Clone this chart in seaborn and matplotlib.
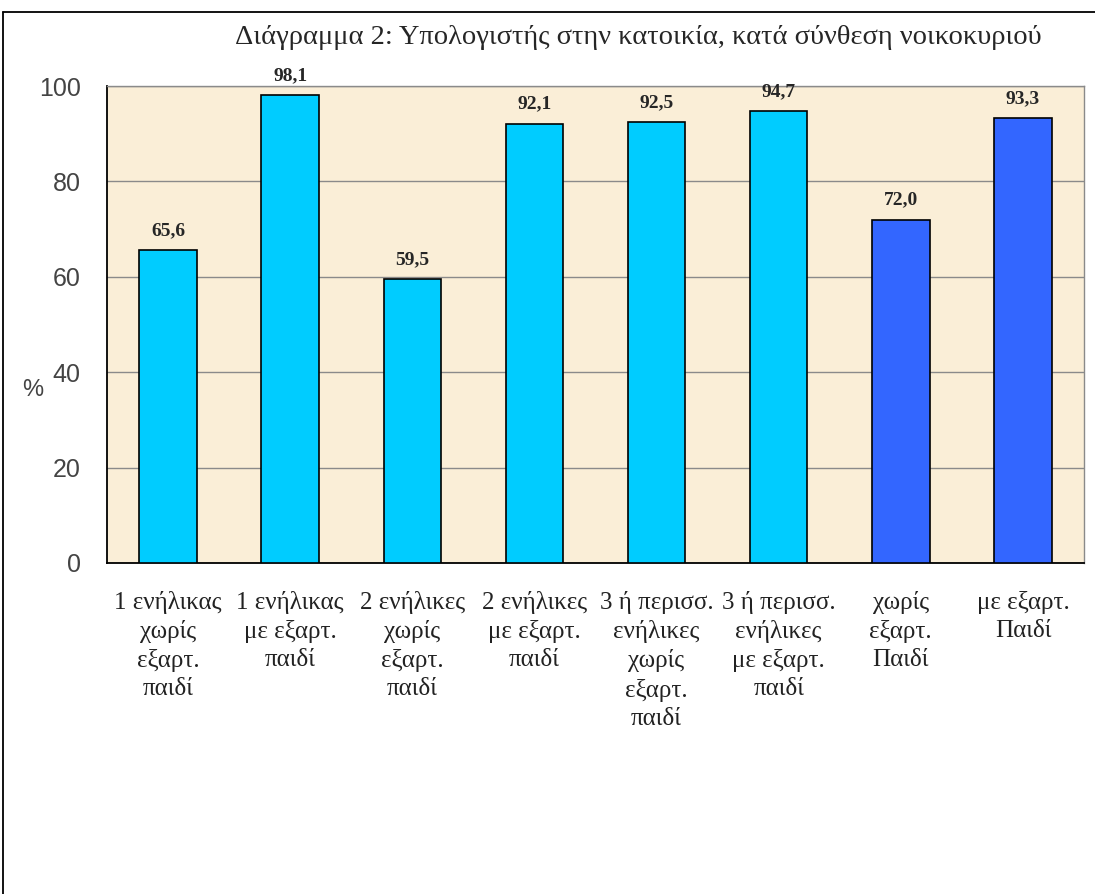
import numpy as np
import pandas as pd
import seaborn as sns
import matplotlib.pyplot as plt
from matplotlib.lines import Line2D

categories = ['1 ενήλικας\nχωρίς\nεξαρτ.\nπαιδί',
              '1 ενήλικας\nμε εξαρτ.\nπαιδί',
              '2 ενήλικες\nχωρίς\nεξαρτ.\nπαιδί',
              '2 ενήλικες\nμε εξαρτ.\nπαιδί',
              '3 ή περισσ.\nενήλικες\nχωρίς\nεξαρτ.\nπαιδί',
              '3 ή περισσ.\nενήλικες\nμε εξαρτ.\nπαιδί',
              'χωρίς\nεξαρτ.\nΠαιδί',
              'με εξαρτ.\nΠαιδί']
values = [65.6, 98.1, 59.5, 92.1, 92.5, 94.7, 72.0, 93.3]
colors = ['#00CCFF'] * 6 + ['#3366FF'] * 2
title = 'Διάγραμμα 2: Υπολογιστής στην κατοικία, κατά σύνθεση νοικοκυριού'

df = pd.DataFrame({'cat': categories, 'val': values})

sns.set_style('white')
plt.rcParams['font.family'] = ['Liberation Serif', 'DejaVu Serif']

fig = plt.figure(figsize=(10.95, 8.94), dpi=100)
ax = fig.add_axes([107/1095, 1 - 563/894, (1084 - 107)/1095, (563 - 86)/894])

sns.barplot(data=df, x='cat', y='val', hue='cat', palette=colors, legend=False,
            width=0.47, edgecolor='black', linewidth=1.2, saturation=1, ax=ax, zorder=3)

ax.set_facecolor('#FAEED7')
ax.set_ylim(0, 100)
ax.set_xlim(-0.5, len(categories) - 0.5)
ax.set_yticks([0, 20, 40, 60, 80, 100])
ax.yaxis.grid(True, color='#8a8a8a', linewidth=1.0, zorder=0)
ax.set_axisbelow(True)

for s in ['top', 'right']:
    ax.spines[s].set_color('#8a8a8a')
    ax.spines[s].set_linewidth(1.0)
for s in ['left', 'bottom']:
    ax.spines[s].set_color('black')
    ax.spines[s].set_linewidth(1.3)

# x ticks at category boundaries, labels centred on bars
ax.set_xticks(np.arange(len(categories) + 1) - 0.5)
ax.set_xticklabels([])
ax.set_xticks(np.arange(len(categories)), minor=True)
ax.set_xticklabels(categories, minor=True, fontsize=18, linespacing=1.35,
                   family=['Liberation Serif', 'DejaVu Serif'], color='#222222')
ax.tick_params(axis='x', which='major', direction='out', length=7, width=1.2, color='black')
ax.tick_params(axis='x', which='minor', length=0, pad=20)
ax.tick_params(axis='y', direction='out', length=7, width=1.2, color='black', pad=12)
for lab in ax.get_yticklabels():
    lab.set_family(['Liberation Sans', 'DejaVu Sans'])
    lab.set_fontsize(18)
    lab.set_color('#444444')

ax.set_xlabel('')
ax.set_ylabel('%', rotation=0, fontsize=17, family=['Liberation Sans', 'DejaVu Sans'],
              color='#444444', va='center', ha='center')
ax.yaxis.set_label_coords(-0.076, 0.363)

for i, v in enumerate(values):
    ax.text(i, v + 2.3, f'{v:.1f}'.replace('.', ','), ha='center', va='bottom',
            fontsize=14, fontweight='bold')

fig.text(638/1095, 1 - 38/894, title, ha='center', va='center', fontsize=20.5)

# outer frame (top and left edges)
fig.add_artist(Line2D([3/1095, 1], [1 - 12/894, 1 - 12/894], color='black', linewidth=1.3,
                      transform=fig.transFigure))
fig.add_artist(Line2D([3/1095, 3/1095], [0, 1 - 12/894], color='black', linewidth=1.3,
                      transform=fig.transFigure))

fig.savefig('out.png', dpi=100, facecolor='white')
